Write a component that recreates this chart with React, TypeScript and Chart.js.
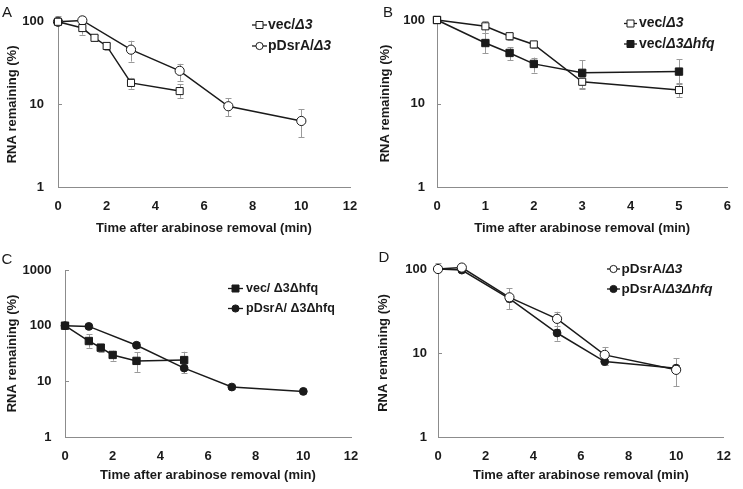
import React, { useEffect, useRef } from 'react';
import { Chart, registerables } from 'chart.js';
Chart.register(...registerables);

// ---------- data ----------
const timesVec = [0, 1, 1.5, 2, 3, 5];
const timesDsrA = [0, 1, 3, 5, 7, 10];

const vecD3 = [100, 84, 64, 51, 18.2, 14.5];
const vecD3Low = [100, 70, 58, 46, 15.5, 12];
const vecD3High = [100, 97, 70, 56, 21, 17.5];

const dsrAD3 = [100, 104, 46, 25.5, 9.5, 6.3];
const dsrAD3Low = [92, 95, 33, 19.3, 7.2, 4.0];
const dsrAD3High = [117, 116, 59, 31, 11.8, 8.7];

const vecD3hfq = [100, 53, 40.3, 29.8, 23.3, 24.1];
const vecD3hfqLow = [100, 40, 33, 23.5, 14.8, 17];
const vecD3hfqHigh = [100, 70, 47, 35.5, 33, 34];

const dsrAD3hfq = [100, 97, 44.5, 17.3, 7.9, 6.6];
const dsrAD3hfqLow = [100, 92, 40, 14, 7.2, 6.2];
const dsrAD3hfqHigh = [100, 102, 50, 21, 8.6, 7.2];

const xTicks12 = [0, 2, 4, 6, 8, 10, 12];
const xTicks6 = [0, 1, 2, 3, 4, 5, 6];
const yTicks100 = [1, 10, 100];
const yTicks1000 = [1, 10, 100, 1000];

const xTitle = 'Time after arabinose removal (min)';
const yTitle = 'RNA remaining (%)';

// ---------- styles ----------
const FONT = "'Liberation Sans', Arial, sans-serif";
const INK = '#1a1a1a';

type Marker = 'openSquare' | 'filledSquare' | 'openCircle' | 'filledCircle';

const markerStyle: Record<Marker, any> = {
  openSquare: { pointStyle: 'rect', pointRadius: 5, pointBackgroundColor: '#fff' },
  filledSquare: { pointStyle: 'rect', pointRadius: 5.2, pointBackgroundColor: INK },
  openCircle: { pointStyle: 'circle', pointRadius: 4.6, pointBackgroundColor: '#fff' },
  filledCircle: { pointStyle: 'circle', pointRadius: 3.9, pointBackgroundColor: INK },
};

type Seg = { t: string; i?: boolean };
type Series = { x: number[]; y: number[]; lo: number[]; hi: number[]; marker: Marker; legend: Seg[] };

const S_vecD3 = (): Series => ({ x: timesVec, y: vecD3, lo: vecD3Low, hi: vecD3High, marker: 'openSquare', legend: [{ t: 'vec/' }, { t: 'Δ3', i: true }] });
const S_dsrAD3 = (): Series => ({ x: timesDsrA, y: dsrAD3, lo: dsrAD3Low, hi: dsrAD3High, marker: 'openCircle', legend: [{ t: 'pDsrA/' }, { t: 'Δ3', i: true }] });
const S_vecD3hfq = (legend: Seg[]): Series => ({ x: timesVec, y: vecD3hfq, lo: vecD3hfqLow, hi: vecD3hfqHigh, marker: 'filledSquare', legend });
const S_dsrAD3hfq = (legend: Seg[]): Series => ({ x: timesDsrA, y: dsrAD3hfq, lo: dsrAD3hfqLow, hi: dsrAD3hfqHigh, marker: 'filledCircle', legend });

const panels = [
  {
    letter: 'A', letterPos: [7, 13], left: 0, top: 0, w: 372, h: 245,
    area: { left: 58, top: 20, right: 22, xHeight: 58 }, xPad: 12, xTitlePad: 9, yPad: 14, yTitlePad: 5,
    xMax: 12, xTicks: xTicks12, yMax: 100, yTicks: yTicks100,
    legend: { line: [252, 267], text: 268, rows: [25, 46], size: 14 },
    series: [S_vecD3(), S_dsrAD3()],
  },
  {
    letter: 'B', letterPos: [16, 13], left: 372, top: 0, w: 371, h: 245,
    area: { left: 65, top: 20, right: 11, xHeight: 58 }, xPad: 12, xTitlePad: 9, yPad: 12, yTitlePad: 6,
    xMax: 6, xTicks: xTicks6, yMax: 100, yTicks: yTicks100,
    legend: { line: [252, 265], text: 267, rows: [23.5, 44], size: 14 },
    series: [S_vecD3(), S_vecD3hfq([{ t: 'vec/' }, { t: 'Δ3Δhfq', i: true }])],
  },
  {
    letter: 'C', letterPos: [7, 15], left: 0, top: 245, w: 372, h: 244,
    area: { left: 65, top: 25, right: 21, xHeight: 52 }, xPad: 12, xTitlePad: 6, yPad: 13.5, yTitlePad: 5,
    xMax: 12, xTicks: xTicks12, yMax: 1000, yTicks: yTicks1000,
    legend: { line: [228, 243], text: 246, rows: [43.5, 63.5], size: 12.5 },
    series: [S_vecD3hfq([{ t: 'vec/ Δ3Δhfq' }]), S_dsrAD3hfq([{ t: 'pDsrA/ Δ3Δhfq' }])],
  },
  {
    letter: 'D', letterPos: [12, 13], left: 372, top: 245, w: 371, h: 244,
    area: { left: 66, top: 24, right: 11, xHeight: 52 }, xPad: 12, xTitlePad: 6, yPad: 11, yTitlePad: 4,
    xMax: 12, xTicks: xTicks12, yMax: 100, yTicks: yTicks100,
    legend: { line: [235, 248], text: 249.5, rows: [24, 44], size: 13.5 },
    series: [S_dsrAD3(), S_dsrAD3hfq([{ t: 'pDsrA/' }, { t: 'Δ3Δhfq', i: true }])],
  },
];

function drawLegendMarker(ctx: CanvasRenderingContext2D, m: Marker, x: number, y: number) {
  ctx.beginPath();
  if (m === 'openSquare' || m === 'filledSquare') {
    ctx.rect(x - 3.5, y - 3.5, 7, 7);
  } else {
    ctx.arc(x, y, 3.6, 0, Math.PI * 2);
  }
  ctx.fillStyle = m.startsWith('open') ? '#fff' : INK;
  ctx.fill();
  ctx.lineWidth = 1;
  ctx.strokeStyle = INK;
  ctx.stroke();
}

const decoPlugin = {
  id: 'deco',
  beforeDatasetsDraw(chart: any) {
    const ctx = chart.ctx as CanvasRenderingContext2D;
    const xs = chart.scales.x;
    const ys = chart.scales.y;
    ctx.save();
    // error bars
    ctx.strokeStyle = '#9a9a9a';
    ctx.lineWidth = 1;
    chart.data.datasets.forEach((ds: any) => {
      ds.data.forEach((p: any, i: number) => {
        const px = Math.round(xs.getPixelForValue(p.x)) + 0.5;
        const y1 = ys.getPixelForValue(ds.errLow[i]);
        const y2 = ys.getPixelForValue(ds.errHigh[i]);
        if (Math.abs(y1 - y2) < 1) return;
        ctx.beginPath();
        ctx.moveTo(px, y1);
        ctx.lineTo(px, y2);
        ctx.moveTo(px - 3, Math.round(y1) + 0.5);
        ctx.lineTo(px + 3, Math.round(y1) + 0.5);
        ctx.moveTo(px - 3, Math.round(y2) + 0.5);
        ctx.lineTo(px + 3, Math.round(y2) + 0.5);
        ctx.stroke();
      });
    });
    // inward tick marks on the y axis
    ctx.strokeStyle = '#8c8c8c';
    ys.ticks.forEach((t: any) => {
      const py = Math.round(ys.getPixelForValue(t.value)) + 0.5;
      ctx.beginPath();
      ctx.moveTo(chart.chartArea.left, py);
      ctx.lineTo(chart.chartArea.left + 4, py);
      ctx.stroke();
    });
    ctx.restore();
  },
  afterDraw(chart: any, _args: any, opts: any) {
    const ctx = chart.ctx as CanvasRenderingContext2D;
    ctx.save();
    // panel letter
    ctx.fillStyle = INK;
    ctx.font = `15px ${FONT}`;
    ctx.textAlign = 'center';
    ctx.textBaseline = 'middle';
    ctx.fillText(opts.letter, opts.letterPos[0], opts.letterPos[1]);
    // legend
    const lg = opts.legend;
    opts.series.forEach((s: Series, k: number) => {
      const y = lg.rows[k];
      ctx.strokeStyle = INK;
      ctx.lineWidth = 1.3;
      ctx.beginPath();
      ctx.moveTo(lg.line[0], y);
      ctx.lineTo(lg.line[1], y);
      ctx.stroke();
      drawLegendMarker(ctx, s.marker, (lg.line[0] + lg.line[1]) / 2, y);
      let x = lg.text;
      ctx.textAlign = 'left';
      ctx.textBaseline = 'middle';
      ctx.fillStyle = INK;
      s.legend.forEach((seg) => {
        ctx.font = `${seg.i ? 'italic ' : ''}bold ${lg.size}px ${FONT}`;
        ctx.fillText(seg.t, x, y);
        x += ctx.measureText(seg.t).width;
      });
    });
    ctx.restore();
  },
};

function makeConfig(p: any): any {
  return {
    type: 'line',
    data: {
      datasets: p.series.map((s: Series) => ({
        data: s.x.map((x, i) => ({ x, y: s.y[i] })),
        errLow: s.lo,
        errHigh: s.hi,
        borderColor: INK,
        borderWidth: 1.5,
        pointBorderColor: INK,
        pointBorderWidth: 1,
        fill: false,
        tension: 0,
        clip: false,
        ...markerStyle[s.marker],
      })),
    },
    options: {
      animation: false,
      responsive: false,
      devicePixelRatio: 1,
      layout: { padding: { left: 0, top: p.area.top, right: p.area.right, bottom: 0 } },
      plugins: {
        legend: { display: false },
        tooltip: { enabled: false },
        deco: { letter: p.letter, letterPos: p.letterPos, legend: p.legend, series: p.series },
      },
      scales: {
        x: {
          type: 'linear',
          min: 0,
          max: p.xMax,
          afterBuildTicks: (s: any) => { s.ticks = p.xTicks.map((v: number) => ({ value: v })); },
          afterFit: (s: any) => { s.height = p.area.xHeight; },
          grid: { display: true, drawOnChartArea: false, drawTicks: false },
          border: { display: true, color: '#8c8c8c', width: 1 },
          ticks: { padding: p.xPad, color: INK, font: { family: FONT, size: 13, weight: 'bold' }, maxRotation: 0, autoSkip: false },
          title: { display: true, text: xTitle, color: INK, font: { family: FONT, size: 13, weight: 'bold' }, padding: { top: 0, bottom: p.xTitlePad } },
        },
        y: {
          type: 'logarithmic',
          min: 1,
          max: p.yMax,
          afterBuildTicks: (s: any) => { s.ticks = p.yTicks.map((v: number) => ({ value: v })); },
          afterFit: (s: any) => { s.width = p.area.left; },
          grid: { display: true, drawOnChartArea: false, drawTicks: false },
          border: { display: true, color: '#8c8c8c', width: 1 },
          ticks: { padding: p.yPad, color: INK, font: { family: FONT, size: 13, weight: 'bold' }, callback: (v: any) => String(v), autoSkip: false },
          title: { display: true, text: yTitle, color: INK, font: { family: FONT, size: 13, weight: 'bold' }, padding: { top: p.yTitlePad, bottom: 0 } },
        },
      },
    },
    plugins: [decoPlugin],
  };
}

function Panel({ p }: { p: any }) {
  const ref = useRef<HTMLCanvasElement>(null);
  useEffect(() => {
    if (!ref.current) return;
    const chart = new Chart(ref.current, makeConfig(p));
    return () => chart.destroy();
  }, [p]);
  return (
    <canvas
      ref={ref}
      width={p.w}
      height={p.h}
      style={{ position: 'absolute', left: p.left, top: p.top, width: p.w, height: p.h }}
    />
  );
}

export default function App() {
  return (
    <div style={{ position: 'absolute', left: 0, top: 0, width: 743, height: 489, background: '#fff' }}>
      {panels.map((p) => (
        <Panel key={p.letter} p={p} />
      ))}
    </div>
  );
}
